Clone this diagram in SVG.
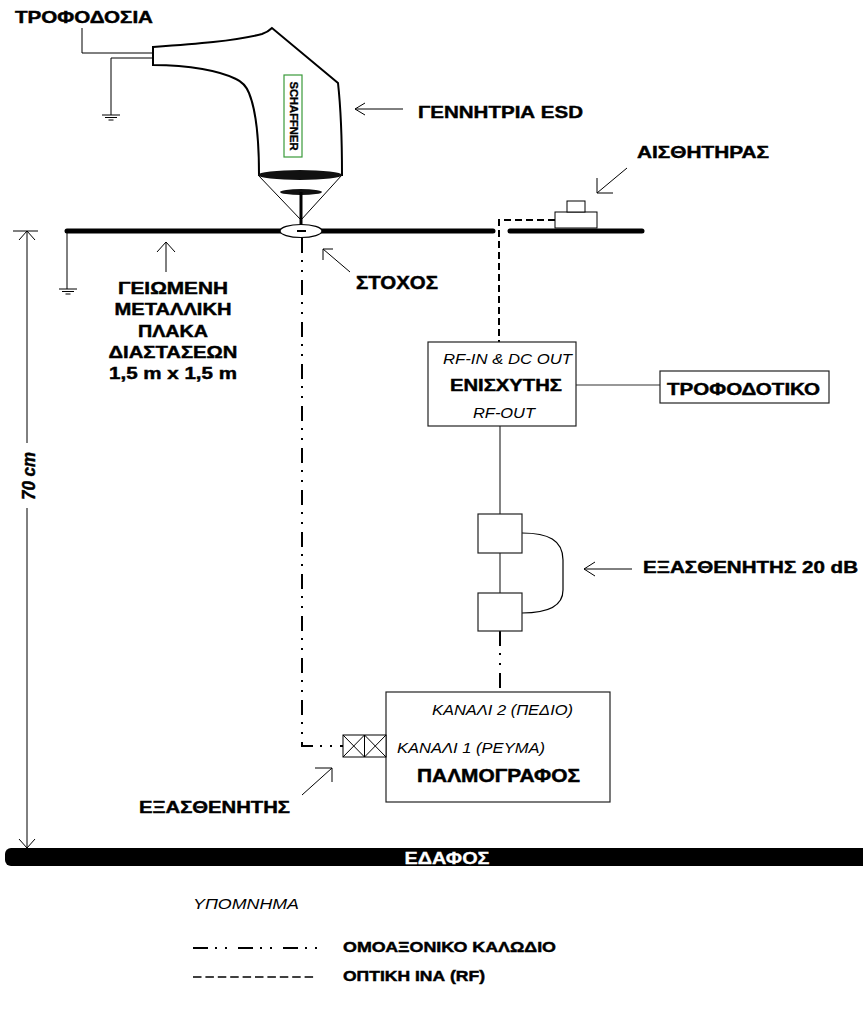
<svg xmlns="http://www.w3.org/2000/svg" width="863" height="1016" viewBox="0 0 863 1016">
  <style>
    .b { font-family: "Liberation Sans", Arial, sans-serif; font-weight: bold; fill: #000; stroke: #000; stroke-width: 0.45; }
    .i { font-family: "Liberation Sans", Arial, sans-serif; font-style: italic; fill: #000; }
    .thin { fill: none; stroke: #000; stroke-width: 1; }
    .box { fill: #fff; stroke: #222; stroke-width: 1.2; }
    .coax { fill: none; stroke: #000; stroke-width: 2; stroke-dasharray: 15 7 2 8 2 8; }
    .fiber { fill: none; stroke: #000; stroke-width: 2; stroke-dasharray: 7 4; }
    .wire { fill: none; stroke: #333; stroke-width: 1.2; }
  </style>
  <defs>
    <!-- earth symbol, origin at the top of the first bar -->
    <g id="earth">
      <path d="M-9,0 H9 M-6,2.5 H6 M-2.5,5 H2.5" stroke="#000" stroke-width="1" fill="none"/>
    </g>
  </defs>
  <rect width="863" height="1016" fill="#fff"/>

  <!-- power feed of the generator -->
  <g id="power-feed">
    <text class="b" x="15" y="23" font-size="17" textLength="138" lengthAdjust="spacingAndGlyphs">ΤΡΟΦΟΔΟΣΙΑ</text>
    <path class="thin" d="M82,28 V53 H153 M153,58 H111 V115"/>
    <use href="#earth" x="111" y="115"/>
  </g>

  <!-- ESD generator -->
  <g id="esd-gun">
    <path d="M153,47 C195,44 235,41 262,34 Q268,32 272,28 L338,83 C341,110 342,140 342,175 L259,175 C259,140 256,110 249,93 Q245,83 236,79 C220,71 190,65 153,65 Z" fill="#fff" stroke="#000" stroke-width="2"/>
    <rect x="284" y="75" width="18" height="82" fill="#fff" stroke="#3a9a3a" stroke-width="1.2"/>
    <text class="b" font-size="10" style="stroke-width:0.3" transform="translate(293,116) rotate(90)" text-anchor="middle" dy="3.5" textLength="69" lengthAdjust="spacingAndGlyphs">SCHAFFNER</text>
    <path class="thin" d="M258,175 L301,220 L342,175"/>
    <ellipse cx="300" cy="175" rx="42" ry="5" fill="#111"/>
    <ellipse cx="301" cy="192" rx="21" ry="3" fill="#111"/>
    <line x1="301" y1="192" x2="301" y2="226" stroke="#000" stroke-width="3"/>
  </g>
  <g id="esd-label">
    <path class="thin" d="M403,109 H355 M365,103 L355,109 L365,115"/>
    <text class="b" x="418" y="118" font-size="17" textLength="165" lengthAdjust="spacingAndGlyphs">ΓΕΝΝΗΤΡΙΑ  ESD</text>
  </g>

  <!-- grounded metal plate -->
  <g id="plate">
    <line x1="67" y1="231" x2="493" y2="231" stroke="#000" stroke-width="5" stroke-linecap="round"/>
    <line x1="510" y1="231" x2="642" y2="231" stroke="#000" stroke-width="5" stroke-linecap="round"/>
    <path class="thin" d="M67,231 V289"/>
    <use href="#earth" x="68" y="289"/>
    <path class="thin" d="M166,272 V242 M157,252 L166,242 L175,252"/>
    <g class="b" font-size="17" text-anchor="middle">
      <text x="173" y="294" textLength="110" lengthAdjust="spacingAndGlyphs">ΓΕΙΩΜΕΝΗ</text>
      <text x="173" y="315" textLength="117" lengthAdjust="spacingAndGlyphs">ΜΕΤΑΛΛΙΚΗ</text>
      <text x="173" y="337" textLength="70" lengthAdjust="spacingAndGlyphs">ΠΛΑΚΑ</text>
      <text x="173" y="358" textLength="129" lengthAdjust="spacingAndGlyphs">ΔΙΑΣΤΑΣΕΩΝ</text>
      <text x="173" y="379" textLength="128" lengthAdjust="spacingAndGlyphs">1,5 m x 1,5 m</text>
    </g>
  </g>

  <!-- target point -->
  <g id="target">
    <ellipse cx="301" cy="231" rx="21" ry="6.5" fill="#fff" stroke="#000" stroke-width="1.2"/>
    <line x1="297" y1="231" x2="306" y2="231" stroke="#000" stroke-width="2"/>
    <path class="thin" d="M350,272 L323,249 M333,249 H323 V260"/>
    <text class="b" x="356" y="289" font-size="18" textLength="82" lengthAdjust="spacingAndGlyphs">ΣΤΟΧΟΣ</text>
  </g>

  <!-- field sensor -->
  <g id="sensor">
    <rect x="555" y="212" width="42" height="16" fill="#fff" stroke="#000" stroke-width="1"/>
    <rect x="567" y="201" width="18" height="11" fill="#fff" stroke="#000" stroke-width="1"/>
    <path class="thin" d="M627,168 L597,193 M597,178 V193 H613"/>
    <text class="b" x="637" y="158" font-size="17" textLength="132" lengthAdjust="spacingAndGlyphs">ΑΙΣΘΗΤΗΡΑΣ</text>
  </g>

  <!-- connectors -->
  <g id="connectors">
    <path class="fiber" d="M555,220 H499 V342"/>
    <path class="wire" d="M576,385 H660"/>
    <path class="wire" d="M500,426 V514 M500,553 V593"/>
    <path d="M522,533 C548,533 563,540 563,560 V590 C563,606 548,613 522,613" fill="none" stroke="#000" stroke-width="1.2"/>
    <path class="coax" d="M500,631 V692"/>
    <path class="coax" d="M302,238 V746 H343"/>
  </g>

  <!-- amplifier -->
  <g id="amplifier">
    <rect class="box" x="428" y="342" width="148" height="84"/>
    <text class="i" x="443" y="364" font-size="15" textLength="129" lengthAdjust="spacingAndGlyphs">RF-IN &amp; DC OUT</text>
    <text class="b" x="450" y="391" font-size="17" textLength="112" lengthAdjust="spacingAndGlyphs">ΕΝΙΣΧΥΤΗΣ</text>
    <text class="i" x="473" y="418" font-size="15" textLength="62" lengthAdjust="spacingAndGlyphs">RF-OUT</text>
  </g>

  <!-- amplifier supply -->
  <g id="psu">
    <rect class="box" x="660" y="371" width="169" height="32"/>
    <text class="b" x="667" y="395" font-size="17" textLength="153" lengthAdjust="spacingAndGlyphs">ΤΡΟΦΟΔΟΤΙΚΟ</text>
  </g>

  <!-- 20 dB attenuator -->
  <g id="attenuator-20db">
    <rect class="box" x="478" y="514" width="44" height="39"/>
    <rect class="box" x="478" y="593" width="44" height="38"/>
    <path class="thin" d="M632,569 H584 M595,562 L584,569 L595,576"/>
    <text class="b" x="643" y="573" font-size="17" textLength="215" lengthAdjust="spacingAndGlyphs">ΕΞΑΣΘΕΝΗΤΗΣ  20 dB</text>
  </g>

  <!-- oscilloscope -->
  <g id="scope">
    <rect class="box" x="386" y="692" width="224" height="110"/>
    <text class="i" x="432" y="715" font-size="15" textLength="141" lengthAdjust="spacingAndGlyphs">ΚΑΝΑΛΙ 2 (ΠΕΔΙΟ)</text>
    <text class="i" x="397" y="753" font-size="15" textLength="148" lengthAdjust="spacingAndGlyphs">ΚΑΝΑΛΙ 1  (ΡΕΥΜΑ)</text>
    <text class="b" x="417" y="782" font-size="17.5" textLength="163" lengthAdjust="spacingAndGlyphs">ΠΑΛΜΟΓΡΑΦΟΣ</text>
  </g>

  <!-- attenuator at channel 1 -->
  <g id="attenuator-ch1">
    <rect x="343" y="735" width="43" height="22" fill="#fff" stroke="#000" stroke-width="1"/>
    <path class="thin" d="M364.5,735 V757 M343,735 L364.5,757 M364.5,735 L343,757 M364.5,735 L386,757 M386,735 L364.5,757"/>
    <path class="thin" d="M302,795 L332,768 M315,768 H332 V782"/>
    <text class="b" x="139" y="813" font-size="17" textLength="151" lengthAdjust="spacingAndGlyphs">ΕΞΑΣΘΕΝΗΤΗΣ</text>
  </g>

  <!-- height dimension -->
  <g id="dimension">
    <path class="thin" d="M13,231 H38 M27,231 V443 M27,508 V848 M19,240 L27,231 L35,240 M19,839 L27,848 L35,839"/>
    <text class="b" font-style="italic" font-size="18" text-anchor="middle" transform="translate(35,476) rotate(-90)" textLength="48" lengthAdjust="spacingAndGlyphs">70 cm</text>
  </g>

  <!-- floor -->
  <g id="floor">
    <rect x="5" y="848" width="880" height="18" rx="6" fill="#000"/>
    <text class="b" x="447" y="864" font-size="17" text-anchor="middle" style="fill:#fff;stroke:#fff;stroke-width:0.3" textLength="85" lengthAdjust="spacingAndGlyphs">ΕΔΑΦΟΣ</text>
  </g>

  <!-- legend -->
  <g id="legend">
    <text class="i" x="193" y="909" font-size="14" textLength="106" lengthAdjust="spacingAndGlyphs">ΥΠΟΜΝΗΜΑ</text>
    <path d="M193,948 H320" fill="none" stroke="#000" stroke-width="2" stroke-dasharray="15 7 2 8 2 11"/>
    <text class="b" x="343" y="952" font-size="15" textLength="213" lengthAdjust="spacingAndGlyphs">ΟΜΟΑΞΟΝΙΚΟ ΚΑΛΩΔΙΟ</text>
    <path d="M193,977 H317" fill="none" stroke="#000" stroke-width="1.6" stroke-dasharray="8.5 3.9"/>
    <text class="b" x="343" y="981" font-size="15" textLength="142" lengthAdjust="spacingAndGlyphs">ΟΠΤΙΚΗ ΙΝΑ (RF)</text>
  </g>
</svg>
